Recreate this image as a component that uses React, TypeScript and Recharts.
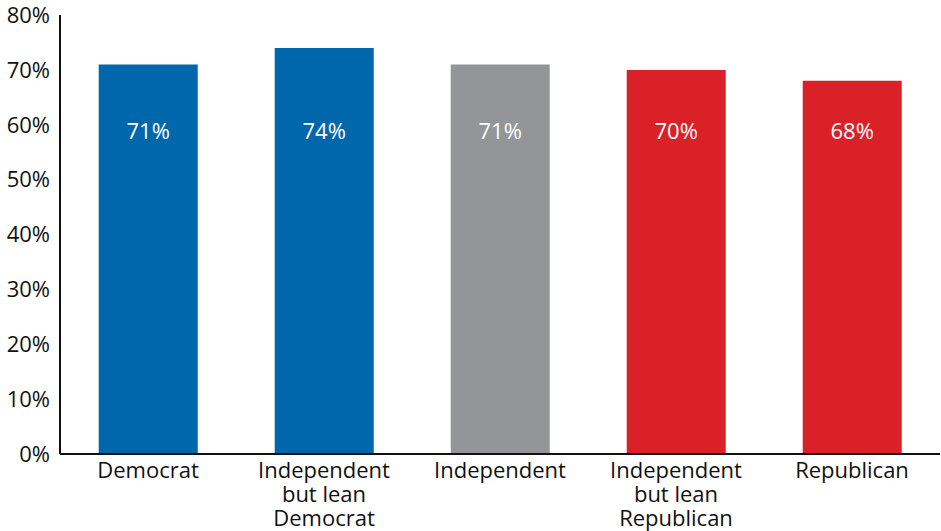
import { BarChart, Bar, XAxis, YAxis, Cell, LabelList } from "recharts";

const categories = [
  "Democrat",
  "Independent\nbut lean\nDemocrat",
  "Independent",
  "Independent\nbut lean\nRepublican",
  "Republican",
];
const values = [71, 74, 71, 70, 68];
const colors = ["#0067AC", "#0067AC", "#939598", "#DA2128", "#DA2128"];
const yTicks = [0, 10, 20, 30, 40, 50, 60, 70, 80];
const labelLevel = 58.5;

const data = categories.map((name, i) => ({ name, value: values[i] }));

const font = "'Open Sans', sans-serif";

function CategoryTick({ x, y, payload }: any) {
  const lines = String(payload.value).split("\n");
  return (
    <g>
      {lines.map((l, i) => (
        <text
          key={i}
          x={x}
          y={y + 16 + i * 24}
          textAnchor="middle"
          fill="#111"
          fontSize={22}
          fontFamily={font}
        >
          {l}
        </text>
      ))}
    </g>
  );
}

function ValueLabel({ x, y, width, height, value }: any) {
  const bottom = y + height;
  const ly = bottom - (height * labelLevel) / value;
  return (
    <text
      x={x + width / 2}
      y={ly}
      textAnchor="middle"
      dominantBaseline="middle"
      fill="#fff"
      fontSize={22}
      fontFamily={font}
    >
      {value}%
    </text>
  );
}

export default function App() {
  return (
    <div style={{ position: "absolute", left: 0, top: 0 }}>
      <BarChart
        width={941}
        height={531}
        data={data}
        margin={{ top: 15, right: 1, left: 0, bottom: 7 }}
        barCategoryGap="22%"
      >
        <XAxis
          dataKey="name"
          interval={0}
          tickLine={false}
          axisLine={{ stroke: "#111", strokeWidth: 2 }}
          tick={<CategoryTick />}
          height={70}
        />
        <YAxis
          domain={[0, 80]}
          ticks={yTicks}
          width={60}
          tickLine={false}
          axisLine={{ stroke: "#111", strokeWidth: 2 }}
          tickFormatter={(v) => `${v}%`}
          tick={{ fill: "#111", fontSize: 22, fontFamily: font }}
          tickMargin={4}
        />
        <Bar dataKey="value" isAnimationActive={false}>
          {data.map((d, i) => (
            <Cell key={d.name} fill={colors[i]} />
          ))}
          <LabelList dataKey="value" content={<ValueLabel />} />
        </Bar>
      </BarChart>
    </div>
  );
}
